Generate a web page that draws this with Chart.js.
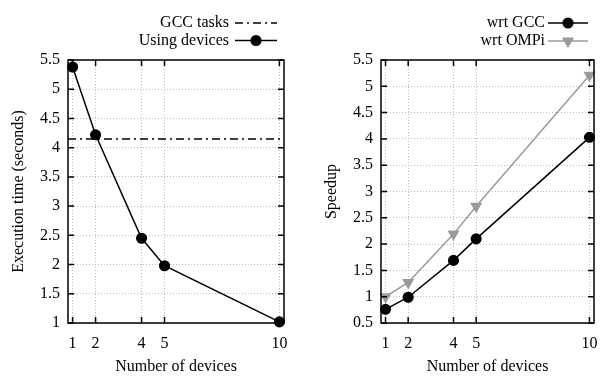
<!DOCTYPE html>
<html>
<head>
<meta charset="utf-8">
<script src="https://cdn.jsdelivr.net/npm/chart.js@4"></script>
<style>
  body { margin: 0; background: #fff; }
  .box { position: absolute; top: 0; }
</style>
</head>
<body>
<div class="box" style="left:0"><canvas id="timeChart" width="300" height="376"></canvas></div>
<div class="box" style="left:300px"><canvas id="speedupChart" width="301" height="376"></canvas></div>
<script>
const devices = [1, 2, 4, 5, 10];
const execTime = [5.38, 4.22, 2.45, 1.98, 1.02];
const gccTasksTime = 4.15;
const speedupGcc = [0.76, 0.99, 1.69, 2.1, 4.03];
const speedupOmpi = [1.0, 1.27, 2.19, 2.72, 5.21];

const FONT = 'Liberation Serif';
const xMin = 0.8, xMax = 10.2;
Chart.defaults.font.family = FONT;
Chart.defaults.font.size = 16;
Chart.defaults.color = '#000';

function pts(ys) {
  return devices.map((d, i) => ({ x: d, y: ys[i] }));
}

/* gnuplot style frame: full border with inward ticks on all sides */
const framePlugin = {
  id: 'frame',
  afterDatasetsDraw(chart) {
    const { ctx, chartArea: a, scales } = chart;
    ctx.save();
    ctx.strokeStyle = '#000';
    ctx.lineWidth = 1.5;
    ctx.beginPath();
    for (const t of scales.x.ticks) {
      const px = scales.x.getPixelForValue(t.value);
      ctx.moveTo(px, a.bottom); ctx.lineTo(px, a.bottom - 6);
      ctx.moveTo(px, a.top); ctx.lineTo(px, a.top + 6);
    }
    for (const t of scales.y.ticks) {
      const py = scales.y.getPixelForValue(t.value);
      ctx.moveTo(a.left, py); ctx.lineTo(a.left + 6, py);
      ctx.moveTo(a.right, py); ctx.lineTo(a.right - 6, py);
    }
    ctx.stroke();
    ctx.strokeRect(a.left, a.top, a.right - a.left, a.bottom - a.top);
    ctx.restore();
  }
};

/* key at top right, text to the left of the sample */
const keyPlugin = {
  id: 'key',
  afterDraw(chart, args, opts) {
    const { ctx } = chart;
    ctx.save();
    ctx.font = '16px ' + FONT;
    ctx.textAlign = 'right';
    ctx.textBaseline = 'middle';
    chart.data.datasets.forEach((ds, i) => {
      const y = opts.top + i * opts.gap;
      ctx.fillStyle = '#000';
      ctx.fillText(ds.label, opts.textRight, y);
      ctx.strokeStyle = ds.borderColor;
      ctx.lineWidth = ds.borderWidth;
      ctx.setLineDash(ds.borderDash || []);
      ctx.beginPath();
      ctx.moveTo(opts.x0, y); ctx.lineTo(opts.x1, y);
      ctx.stroke();
      ctx.setLineDash([]);
      if (ds.pointRadius > 0) {
        ctx.fillStyle = ds.backgroundColor;
        Chart.helpers.drawPoint(ctx, {
          pointStyle: ds.pointStyle, rotation: ds.pointRotation || 0,
          radius: ds.pointRadius, borderWidth: 1
        }, (opts.x0 + opts.x1) / 2, y);
      }
    });
    ctx.restore();
  }
};

function makeOptions(yMin, yTitle, yWidth, titlePad, right, key) {
  return {
    responsive: false,
    animation: false,
    layout: { padding: { top: 60, right: right, left: 0, bottom: 0 } },
    plugins: { legend: { display: false }, tooltip: { enabled: false }, key: key },
    scales: {
      x: {
        type: 'linear', min: xMin, max: xMax,
        afterBuildTicks: s => { s.ticks = devices.map(v => ({ value: v })); },
        afterFit: s => { s.height = 53; s.paddingLeft = 0; s.paddingRight = 0; },
        ticks: { padding: 11, maxRotation: 0, autoSkip: false },
        grid: { color: '#bcbcbc', lineWidth: 1, drawTicks: false },
        border: { display: false, dash: [1, 2] },
        title: { display: true, text: 'Number of devices', padding: { top: 0, bottom: 0 } }
      },
      y: {
        min: yMin, max: 5.5,
        afterFit: s => { s.width = yWidth; },
        ticks: { stepSize: 0.5, padding: 8, callback: v => String(v) },
        grid: { color: '#bcbcbc', lineWidth: 1, drawTicks: false },
        border: { display: false, dash: [1, 2] },
        title: { display: true, text: yTitle, padding: { top: titlePad, bottom: 0 } }
      }
    }
  };
}

new Chart(document.getElementById('timeChart'), {
  type: 'scatter',
  data: {
    datasets: [
      {
        label: 'GCC tasks',
        data: [{ x: xMin, y: gccTasksTime }, { x: xMax, y: gccTasksTime }],
        showLine: true, borderColor: '#000', borderWidth: 1.5,
        borderDash: [8, 4, 2, 4], pointRadius: 0
      },
      {
        label: 'Using devices',
        data: pts(execTime),
        showLine: true, borderColor: '#000', backgroundColor: '#000', borderWidth: 1.5,
        pointStyle: 'circle', pointRadius: 4.8, clip: false
      }
    ]
  },
  options: makeOptions(1, 'Execution time (seconds)', 68, 9.5, 16,
    { top: 23, gap: 17.5, textRight: 229, x0: 235, x1: 277 }),
  plugins: [framePlugin, keyPlugin]
});

new Chart(document.getElementById('speedupChart'), {
  type: 'scatter',
  data: {
    datasets: [
      {
        label: 'wrt GCC',
        data: pts(speedupGcc),
        showLine: true, borderColor: '#000', backgroundColor: '#000', borderWidth: 1.5,
        pointStyle: 'circle', pointRadius: 4.8, clip: false
      },
      {
        label: 'wrt OMPi',
        data: pts(speedupOmpi),
        showLine: true, borderColor: '#9a9a9a', backgroundColor: '#9a9a9a', borderWidth: 1.5,
        pointStyle: 'triangle', pointRotation: 180, pointRadius: 5.5, clip: false
      }
    ]
  },
  options: makeOptions(0.5, 'Speedup', 81, 22, 4,
    { top: 23, gap: 18, textRight: 245, x0: 248, x1: 288 }),
  plugins: [framePlugin, keyPlugin]
});
</script>
</body>
</html>
